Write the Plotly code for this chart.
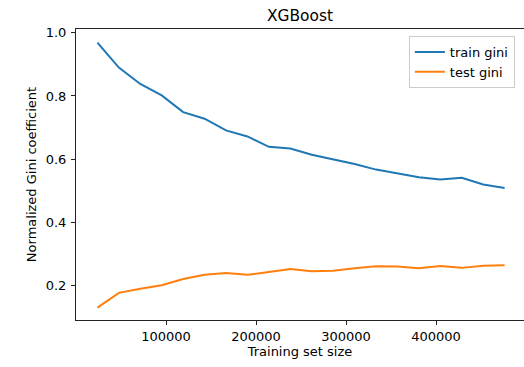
import plotly.graph_objects as go

train_sizes = [23808, 47617, 71425, 95234, 119042, 142851, 166659, 190468, 214276, 238085,
               261893, 285701, 309510, 333318, 357127, 380935, 404744, 428552, 452361, 476169]
train_gini = [0.969, 0.890, 0.838, 0.802, 0.749, 0.728, 0.691, 0.672, 0.639, 0.634,
              0.614, 0.599, 0.585, 0.567, 0.554, 0.543, 0.536, 0.541, 0.520, 0.509]
test_gini = [0.130, 0.177, 0.190, 0.201, 0.221, 0.234, 0.240, 0.234, 0.243, 0.252,
             0.245, 0.247, 0.255, 0.261, 0.260, 0.255, 0.262, 0.256, 0.263, 0.264]

FONT = "DejaVu Sans"

fig = go.Figure()
fig.add_trace(go.Scatter(x=train_sizes, y=train_gini, mode="lines", name="train gini",
                         line=dict(color="#1f77b4", width=2)))
fig.add_trace(go.Scatter(x=train_sizes, y=test_gini, mode="lines", name="test gini",
                         line=dict(color="#ff7f0e", width=2)))

fig.update_layout(
    width=524, height=367,
    margin=dict(l=76, r=0, t=29, b=47, autoexpand=False),
    paper_bgcolor="white", plot_bgcolor="white",
    font=dict(family=FONT, size=13, color="black"),
    title=dict(text="XGBoost", x=0.5, xanchor="center", xref="paper",
               y=1 - 15.5 / 367, yref="container", yanchor="middle",
               font=dict(size=15.4, family=FONT)),
    showlegend=True,
    legend=dict(x=0.743, y=0.976, xanchor="left", yanchor="top",
                bordercolor="#cccccc", borderwidth=1, bgcolor="rgba(255,255,255,0.8)",
                font=dict(size=13, family=FONT), tracegroupgap=0),
    xaxis=dict(range=[0, 497700], showgrid=False, zeroline=False, automargin=False,
               showline=True, linecolor="#222222", linewidth=1, mirror=True,
               ticks="outside", ticklen=4, tickwidth=1, tickcolor="#222222",
               tickvals=[100000, 200000, 300000, 400000],
               ticktext=["100000", "200000", "300000", "400000"],
               title=dict(text="Training set size", standoff=4, font=dict(size=13))),
    yaxis=dict(range=[0.091, 1.012], showgrid=False, zeroline=False, automargin=False,
               showline=True, linecolor="#222222", linewidth=1, mirror=False,
               ticks="outside", ticklen=4, tickwidth=1, tickcolor="#222222",
               ticklabelstandoff=2,
               tickvals=[0.2, 0.4, 0.6, 0.8, 1.0],
               ticktext=["0.2", "0.4", "0.6", "0.8", "1.0"],
               title=dict(text="Normalized Gini coefficient", standoff=6, font=dict(size=13))),
)

fig.write_html("out.html", config={"displayModeBar": False},
               post_script="document.body.style.margin='0';")
